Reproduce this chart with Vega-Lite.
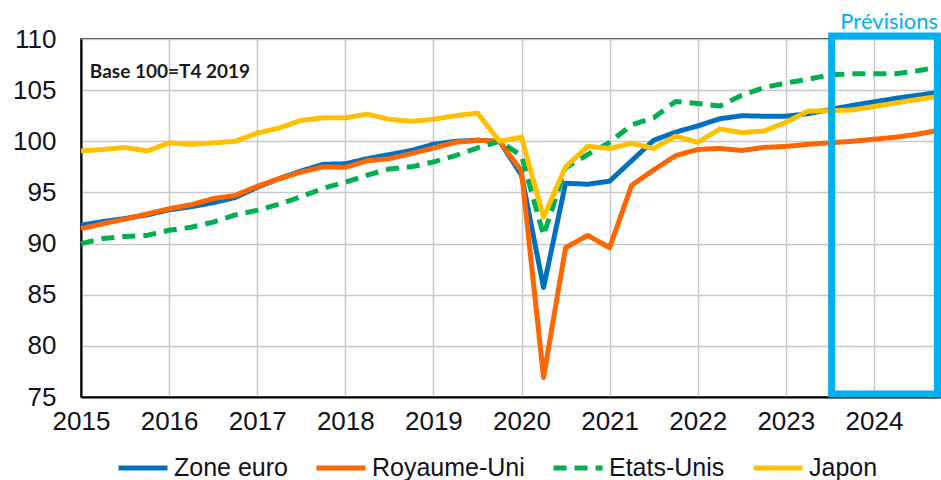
{
  "$schema": "https://vega.github.io/schema/vega-lite/v6.json",
  "width": 859,
  "height": 358,
  "autosize": "none",
  "padding": {"left": 81, "top": 39, "right": 1, "bottom": 83},
  "background": "white",
  "config": {
    "font": "Liberation Sans",
    "view": {"stroke": "#000000", "strokeWidth": 1.5}
  },
  "layer": [
    {
      "data": {
        "values": [
          {"t": 2015.0, "Zone euro": 91.8, "Royaume-Uni": 91.45, "Etats-Unis": 90.0, "Japon": 99.05},
          {"t": 2015.25, "Zone euro": 92.15, "Royaume-Uni": 91.95, "Etats-Unis": 90.5, "Japon": 99.2},
          {"t": 2015.5, "Zone euro": 92.45, "Royaume-Uni": 92.4, "Etats-Unis": 90.7, "Japon": 99.4},
          {"t": 2015.75, "Zone euro": 92.8, "Royaume-Uni": 92.9, "Etats-Unis": 90.8, "Japon": 99.05},
          {"t": 2016.0, "Zone euro": 93.3, "Royaume-Uni": 93.4, "Etats-Unis": 91.3, "Japon": 99.85},
          {"t": 2016.25, "Zone euro": 93.6, "Royaume-Uni": 93.8, "Etats-Unis": 91.6, "Japon": 99.7},
          {"t": 2016.5, "Zone euro": 94.0, "Royaume-Uni": 94.4, "Etats-Unis": 92.1, "Japon": 99.85},
          {"t": 2016.75, "Zone euro": 94.5, "Royaume-Uni": 94.7, "Etats-Unis": 92.8, "Japon": 100.0},
          {"t": 2017.0, "Zone euro": 95.5, "Royaume-Uni": 95.6, "Etats-Unis": 93.25, "Japon": 100.8},
          {"t": 2017.25, "Zone euro": 96.35, "Royaume-Uni": 96.35, "Etats-Unis": 93.85, "Japon": 101.3},
          {"t": 2017.5, "Zone euro": 97.1, "Royaume-Uni": 97.0, "Etats-Unis": 94.6, "Japon": 102.05},
          {"t": 2017.75, "Zone euro": 97.75, "Royaume-Uni": 97.5, "Etats-Unis": 95.4, "Japon": 102.3},
          {"t": 2018.0, "Zone euro": 97.8, "Royaume-Uni": 97.45, "Etats-Unis": 96.0, "Japon": 102.3},
          {"t": 2018.25, "Zone euro": 98.3, "Royaume-Uni": 98.1, "Etats-Unis": 96.7, "Japon": 102.65},
          {"t": 2018.5, "Zone euro": 98.7, "Royaume-Uni": 98.3, "Etats-Unis": 97.3, "Japon": 102.15},
          {"t": 2018.75, "Zone euro": 99.1, "Royaume-Uni": 98.8, "Etats-Unis": 97.5, "Japon": 101.95},
          {"t": 2019.0, "Zone euro": 99.7, "Royaume-Uni": 99.35, "Etats-Unis": 97.98, "Japon": 102.15},
          {"t": 2019.25, "Zone euro": 100.0, "Royaume-Uni": 99.9, "Etats-Unis": 98.6, "Japon": 102.5},
          {"t": 2019.5, "Zone euro": 100.1, "Royaume-Uni": 100.1, "Etats-Unis": 99.35, "Japon": 102.75},
          {"t": 2019.75, "Zone euro": 100.0, "Royaume-Uni": 100.0, "Etats-Unis": 100.0, "Japon": 100.0},
          {"t": 2020.0, "Zone euro": 96.7, "Royaume-Uni": 97.1, "Etats-Unis": 98.6, "Japon": 100.4},
          {"t": 2020.25, "Zone euro": 85.7, "Royaume-Uni": 76.9, "Etats-Unis": 90.8, "Japon": 92.6},
          {"t": 2020.5, "Zone euro": 95.9, "Royaume-Uni": 89.6, "Etats-Unis": 97.4, "Japon": 97.5},
          {"t": 2020.75, "Zone euro": 95.8, "Royaume-Uni": 90.8, "Etats-Unis": 98.7, "Japon": 99.5},
          {"t": 2021.0, "Zone euro": 96.1, "Royaume-Uni": 89.6, "Etats-Unis": 99.9, "Japon": 99.3},
          {"t": 2021.25, "Zone euro": 98.1, "Royaume-Uni": 95.7, "Etats-Unis": 101.6, "Japon": 99.8},
          {"t": 2021.5, "Zone euro": 100.1, "Royaume-Uni": 97.2, "Etats-Unis": 102.3, "Japon": 99.3},
          {"t": 2021.75, "Zone euro": 100.9, "Royaume-Uni": 98.6, "Etats-Unis": 103.9, "Japon": 100.5},
          {"t": 2022.0, "Zone euro": 101.5, "Royaume-Uni": 99.2, "Etats-Unis": 103.7, "Japon": 99.9},
          {"t": 2022.25, "Zone euro": 102.2, "Royaume-Uni": 99.3, "Etats-Unis": 103.45, "Japon": 101.2},
          {"t": 2022.5, "Zone euro": 102.5, "Royaume-Uni": 99.1, "Etats-Unis": 104.5, "Japon": 100.85},
          {"t": 2022.75, "Zone euro": 102.45, "Royaume-Uni": 99.4, "Etats-Unis": 105.25, "Japon": 101.0},
          {"t": 2023.0, "Zone euro": 102.45, "Royaume-Uni": 99.5, "Etats-Unis": 105.7, "Japon": 101.85},
          {"t": 2023.25, "Zone euro": 102.7, "Royaume-Uni": 99.7, "Etats-Unis": 106.05, "Japon": 102.95},
          {"t": 2023.5, "Zone euro": 103.1, "Royaume-Uni": 99.85, "Etats-Unis": 106.5, "Japon": 103.0},
          {"t": 2023.75, "Zone euro": 103.5, "Royaume-Uni": 100.0, "Etats-Unis": 106.6, "Japon": 103.05},
          {"t": 2024.0, "Zone euro": 103.85, "Royaume-Uni": 100.2, "Etats-Unis": 106.6, "Japon": 103.4},
          {"t": 2024.25, "Zone euro": 104.2, "Royaume-Uni": 100.4, "Etats-Unis": 106.6, "Japon": 103.75},
          {"t": 2024.5, "Zone euro": 104.5, "Royaume-Uni": 100.7, "Etats-Unis": 106.9, "Japon": 104.1},
          {"t": 2024.75, "Zone euro": 104.8, "Royaume-Uni": 101.1, "Etats-Unis": 107.3, "Japon": 104.4}
        ]
      },
      "transform": [
        {"fold": ["Zone euro", "Royaume-Uni", "Etats-Unis", "Japon"], "as": ["serie", "valeur"]}
      ],
      "mark": {"type": "line", "strokeWidth": 5, "strokeJoin": "round", "strokeCap": "butt"},
      "encoding": {
        "x": {
          "field": "t", "type": "quantitative",
          "scale": {"domain": [2015, 2024.75], "nice": false, "zero": false},
          "axis": {
            "title": null, "values": [2015, 2016, 2017, 2018, 2019, 2020, 2021, 2022, 2023, 2024],
            "format": "d", "labelFontSize": 26, "labelColor": "#111122", "labelPadding": 11,
            "labelFlush": false, "labelBound": false, "labelOverlap": false,
            "ticks": false, "domainColor": "#000000", "domainWidth": 2,
            "grid": true, "gridColor": "#C8C8C8", "gridWidth": 1.5
          }
        },
        "y": {
          "field": "valeur", "type": "quantitative",
          "scale": {"domain": [75, 110], "nice": false, "zero": false},
          "axis": {
            "title": null, "values": [75, 80, 85, 90, 95, 100, 105, 110],
            "labelFontSize": 26, "labelColor": "#111122", "labelPadding": 25,
            "ticks": false, "domainColor": "#000000", "domainWidth": 2,
            "grid": true, "gridColor": "#C8C8C8", "gridWidth": 1.5
          }
        },
        "color": {
          "field": "serie", "type": "nominal",
          "scale": {"domain": ["Zone euro", "Royaume-Uni", "Etats-Unis", "Japon"], "range": ["#0070C0", "#FF6600", "#00B050", "#FFC000"]},
          "legend": {
            "title": null, "orient": "none", "direction": "horizontal", "columns": 4,
            "legendX": 35, "legendY": 402, "gridAlign": "each",
            "symbolType": "stroke", "symbolSize": 2400, "symbolStrokeWidth": 5,
            "labelFontSize": 25, "labelColor": "#111122", "labelOffset": 4,
            "columnPadding": 18, "labelLimit": 300
          }
        },
        "strokeDash": {
          "field": "serie", "type": "nominal",
          "scale": {"domain": ["Zone euro", "Royaume-Uni", "Etats-Unis", "Japon"], "range": [[1, 0], [1, 0], [13, 8], [1, 0]]},
          "legend": {
            "title": null, "orient": "none", "direction": "horizontal", "columns": 4,
            "legendX": 35, "legendY": 402, "gridAlign": "each",
            "symbolType": "stroke", "symbolSize": 2400, "symbolStrokeWidth": 5,
            "labelFontSize": 25, "labelColor": "#111122", "labelOffset": 4,
            "columnPadding": 18, "labelLimit": 300
          }
        }
      }
    },
    {
      "data": {"values": [{}]},
      "mark": {"type": "rect", "filled": false, "stroke": "#00B0F0", "strokeWidth": 7, "clip": false},
      "encoding": {
        "x": {"datum": 2023.52, "type": "quantitative"},
        "x2": {"datum": 2024.72},
        "y": {"datum": 110.3, "type": "quantitative"},
        "y2": {"datum": 75.3}
      }
    },
    {
      "data": {"values": [{}]},
      "mark": {"type": "text", "text": "Prévisions", "font": "Lato", "fontSize": 22, "color": "#00B0F0", "align": "right", "baseline": "middle", "dx": -2},
      "encoding": {
        "x": {"datum": 2024.75, "type": "quantitative"},
        "y": {"datum": 111.65, "type": "quantitative"}
      }
    },
    {
      "data": {"values": [{}]},
      "mark": {"type": "text", "text": "Base 100=T4 2019", "font": "Lato", "fontWeight": "bold", "fontSize": 19, "color": "#1a1a1a", "align": "left", "baseline": "middle"},
      "encoding": {
        "x": {"datum": 2015.1, "type": "quantitative"},
        "y": {"datum": 106.75, "type": "quantitative"}
      }
    }
  ]
}
